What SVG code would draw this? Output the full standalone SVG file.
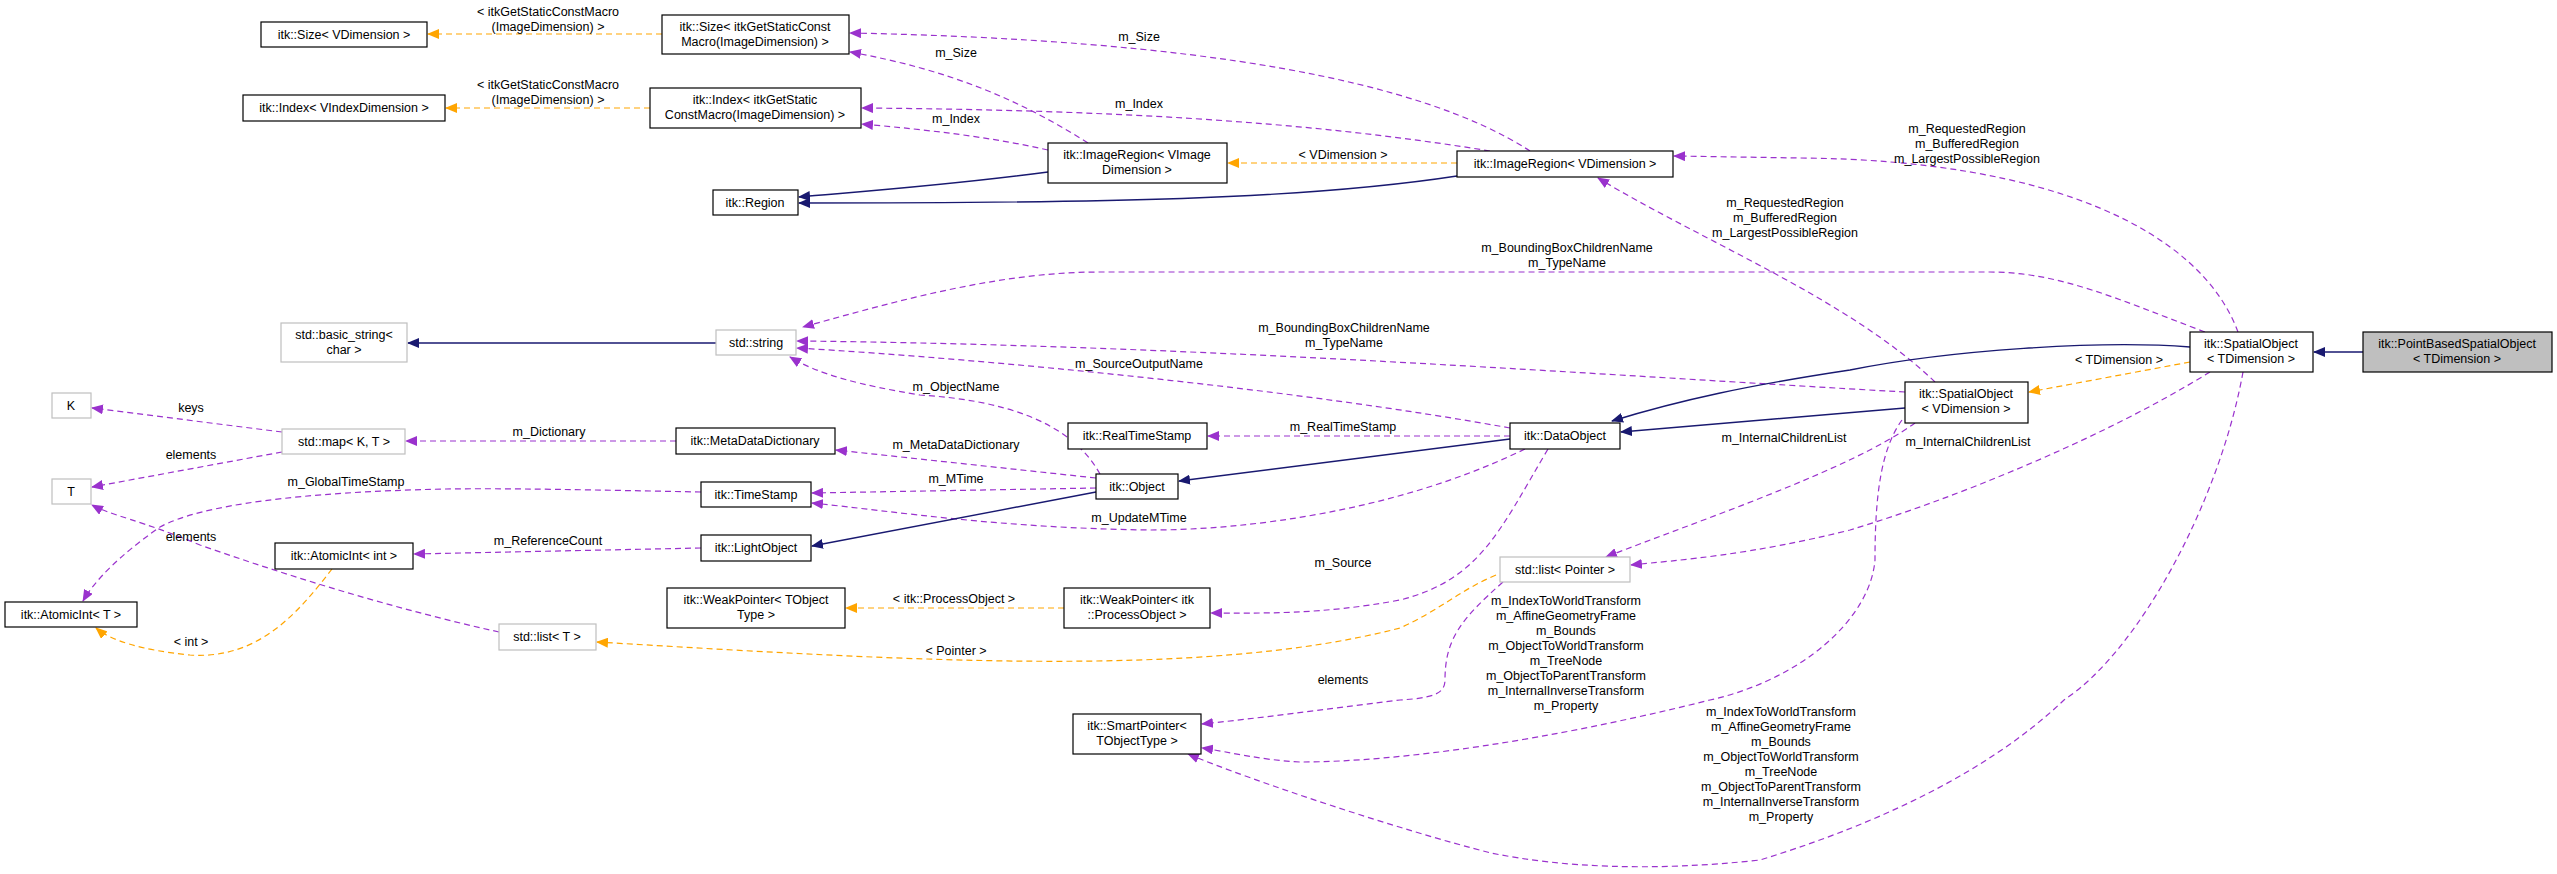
<svg xmlns="http://www.w3.org/2000/svg" width="2557" height="874" viewBox="0 0 2557 874">
<style>
text{font-family:"Liberation Sans",Arial,sans-serif;font-size:12.5px;fill:#000;text-anchor:middle}
.n{fill:#fff;stroke:#000;stroke-width:1.2}
.g{fill:#fff;stroke:#bfbfbf;stroke-width:1.2}
.p{fill:none;stroke:#9a32cd;stroke-width:1.2;stroke-dasharray:6,4;marker-end:url(#ap)}
.o{fill:none;stroke:#ffa500;stroke-width:1.2;stroke-dasharray:6,4;marker-end:url(#ao)}
.b{fill:none;stroke:#191970;stroke-width:1.4;marker-end:url(#ab)}
</style>
<defs>
<marker id="ap" markerWidth="12" markerHeight="10" refX="11" refY="5" orient="auto" markerUnits="userSpaceOnUse"><path d="M0,0L12,5L0,10z" fill="#9a32cd"/></marker>
<marker id="ao" markerWidth="12" markerHeight="10" refX="11" refY="5" orient="auto" markerUnits="userSpaceOnUse"><path d="M0,0L12,5L0,10z" fill="#ffa500"/></marker>
<marker id="ab" markerWidth="12" markerHeight="10" refX="11" refY="5" orient="auto" markerUnits="userSpaceOnUse"><path d="M0,0L12,5L0,10z" fill="#191970"/></marker>
</defs>
<rect width="2557" height="874" fill="#fff"/>
<g id="connectors">
<path class="o" d="M662,34L428,34"/><text x="548" y="16">&lt; itkGetStaticConstMacro</text><text x="548" y="31">(ImageDimension) &gt;</text>
<path class="o" d="M650,108L446,108"/><text x="548" y="89">&lt; itkGetStaticConstMacro</text><text x="548" y="104">(ImageDimension) &gt;</text>
<path class="p" d="M1088,143C1020,100 950,70 850,52"/><text x="956" y="57">m_Size</text>
<path class="p" d="M1530,151C1420,80 1200,40 850,33"/><text x="1139" y="41">m_Size</text>
<path class="p" d="M1048,150C990,137 930,130 862,124"/><text x="956" y="123">m_Index</text>
<path class="p" d="M1490,151C1300,120 1100,110 862,108"/><text x="1139" y="108">m_Index</text>
<path class="b" d="M1048,172C950,185 880,190 799,197"/>
<path class="b" d="M1457,176C1300,200 1100,203 799,203"/>
<path class="o" d="M1457,163L1228,163"/><text x="1343" y="159">&lt; VDimension &gt;</text>
<path class="p" d="M2238,332C2200,230 2050,160 1800,158L1674,156"/><text x="1967" y="133">m_RequestedRegion</text><text x="1967" y="148">m_BufferedRegion</text><text x="1967" y="163">m_LargestPossibleRegion</text>
<path class="p" d="M1935,382C1850,300 1700,240 1598,178"/><text x="1785" y="207">m_RequestedRegion</text><text x="1785" y="222">m_BufferedRegion</text><text x="1785" y="237">m_LargestPossibleRegion</text>
<path class="p" d="M2205,332C2120,300 2060,272 1990,272L1100,272C1000,272 900,300 803,327"/><text x="1567" y="252">m_BoundingBoxChildrenName</text><text x="1567" y="267">m_TypeName</text>
<path class="p" d="M1905,392C1600,375 1200,345 797,341"/><text x="1344" y="332">m_BoundingBoxChildrenName</text><text x="1344" y="347">m_TypeName</text>
<path class="p" d="M1510,428C1300,390 1000,360 797,348"/><text x="1139" y="368">m_SourceOutputName</text>
<path class="p" d="M1100,474C1070,420 1000,400 920,395C860,385 820,375 790,357"/><text x="956" y="391">m_ObjectName</text>
<path class="b" d="M716,343L408,343"/>
<path class="p" d="M282,432L92,408"/><text x="191" y="412">keys</text>
<path class="p" d="M282,452L92,487"/><text x="191" y="459">elements</text>
<path class="p" d="M676,441L406,441"/><text x="549" y="436">m_Dictionary</text>
<path class="p" d="M1096,478L836,450"/><text x="956" y="449">m_MetaDataDictionary</text>
<path class="p" d="M701,492C600,490 500,488 446,489C300,492 200,505 160,527C120,555 95,580 83,601"/><text x="346" y="486">m_GlobalTimeStamp</text>
<path class="p" d="M1096,488L812,493"/><text x="956" y="483">m_MTime</text>
<path class="p" d="M1525,449C1400,510 1250,530 1150,530C1000,528 900,512 812,503"/><text x="1139" y="522">m_UpdateMTime</text>
<path class="b" d="M1096,492L812,546"/>
<path class="b" d="M1510,439L1179,481"/>
<path class="p" d="M1510,436L1208,436"/><text x="1343" y="431">m_RealTimeStamp</text>
<path class="p" d="M701,548L414,554"/><text x="548" y="545">m_ReferenceCount</text>
<path class="o" d="M332,569C300,610 260,660 190,655C140,650 110,640 96,628"/><text x="191" y="646">&lt; int &gt;</text>
<path class="p" d="M499,632C400,610 300,580 200,545C140,520 110,515 92,505"/><text x="191" y="541">elements</text>
<path class="o" d="M1064,608L846,608"/><text x="954" y="603">&lt; itk::ProcessObject &gt;</text>
<path class="p" d="M1548,449C1500,530 1480,580 1400,600C1320,615 1260,613 1211,613"/><text x="1343" y="567">m_Source</text>
<path class="o" d="M1496,575C1460,590 1440,610 1400,628C1200,680 900,660 597,642"/><text x="956" y="655">&lt; Pointer &gt;</text>
<path class="p" d="M1503,582C1460,620 1445,640 1445,680C1445,695 1430,698 1400,700C1320,710 1260,718 1202,724"/><text x="1343" y="684">elements</text>
<path class="p" d="M1915,423C1850,470 1700,520 1606,557"/><text x="1784" y="442">m_InternalChildrenList</text>
<path class="p" d="M2210,372C2100,440 1950,500 1850,530C1750,555 1680,560 1631,565"/><text x="1968" y="446">m_InternalChildrenList</text>
<path class="p" d="M1902,420C1880,450 1875,500 1875,560C1870,620 1800,680 1710,700C1550,740 1400,762 1300,762C1260,760 1230,752 1202,748"/>
<text x="1566" y="605">m_IndexToWorldTransform</text><text x="1566" y="620">m_AffineGeometryFrame</text><text x="1566" y="635">m_Bounds</text><text x="1566" y="650">m_ObjectToWorldTransform</text><text x="1566" y="665">m_TreeNode</text><text x="1566" y="680">m_ObjectToParentTransform</text><text x="1566" y="695">m_InternalInverseTransform</text><text x="1566" y="710">m_Property</text>
<path class="p" d="M2243,372C2220,500 2140,650 2064,700C1980,780 1858,830 1760,860C1650,872 1560,867 1491,853C1400,830 1250,780 1188,754"/>
<text x="1781" y="716">m_IndexToWorldTransform</text><text x="1781" y="731">m_AffineGeometryFrame</text><text x="1781" y="746">m_Bounds</text><text x="1781" y="761">m_ObjectToWorldTransform</text><text x="1781" y="776">m_TreeNode</text><text x="1781" y="791">m_ObjectToParentTransform</text><text x="1781" y="806">m_InternalInverseTransform</text><text x="1781" y="821">m_Property</text>
<path class="b" d="M2363,352L2314,352"/>
<path class="b" d="M2190,347C2100,340 1950,350 1850,370C1750,385 1680,400 1612,421"/>
<path class="b" d="M1905,408L1621,432"/>
<path class="o" d="M2190,362L2029,392"/><text x="2119" y="364">&lt; TDimension &gt;</text>
</g>
<g id="n1"><rect class="n" x="261" y="22" width="166" height="25"/><text x="344" y="39">itk::Size&lt; VDimension &gt;</text></g>
<g id="n2"><rect class="n" x="662" y="15" width="187" height="39"/><text x="755" y="31">itk::Size&lt; itkGetStaticConst</text><text x="755" y="46">Macro(ImageDimension) &gt;</text></g>
<g id="n3"><rect class="n" x="243" y="95" width="202" height="26"/><text x="344" y="112">itk::Index&lt; VIndexDimension &gt;</text></g>
<g id="n4"><rect class="n" x="650" y="88" width="211" height="40"/><text x="755" y="104">itk::Index&lt; itkGetStatic</text><text x="755" y="119">ConstMacro(ImageDimension) &gt;</text></g>
<g id="n5"><rect class="n" x="713" y="190" width="85" height="25"/><text x="755" y="207">itk::Region</text></g>
<g id="n6"><rect class="g" x="281" y="323" width="126" height="39"/><text x="344" y="339">std::basic_string&lt;</text><text x="344" y="354">char &gt;</text></g>
<g id="n7"><rect class="g" x="716" y="330" width="80" height="25"/><text x="756" y="347">std::string</text></g>
<g id="n8"><rect class="g" x="52" y="393" width="39" height="25"/><text x="71" y="410">K</text></g>
<g id="n9"><rect class="g" x="282" y="429" width="123" height="25"/><text x="344" y="446">std::map&lt; K, T &gt;</text></g>
<g id="n10"><rect class="n" x="676" y="428" width="159" height="26"/><text x="755" y="445">itk::MetaDataDictionary</text></g>
<g id="n11"><rect class="g" x="52" y="479" width="39" height="25"/><text x="71" y="496">T</text></g>
<g id="n12"><rect class="n" x="701" y="482" width="110" height="25"/><text x="756" y="499">itk::TimeStamp</text></g>
<g id="n13"><rect class="n" x="701" y="535" width="110" height="26"/><text x="756" y="552">itk::LightObject</text></g>
<g id="n14"><rect class="n" x="275" y="543" width="138" height="26"/><text x="344" y="560">itk::AtomicInt&lt; int &gt;</text></g>
<g id="n15"><rect class="n" x="5" y="602" width="132" height="25"/><text x="71" y="619">itk::AtomicInt&lt; T &gt;</text></g>
<g id="n16"><rect class="n" x="667" y="588" width="178" height="40"/><text x="756" y="604">itk::WeakPointer&lt; TObject</text><text x="756" y="619">Type &gt;</text></g>
<g id="n17"><rect class="g" x="499" y="624" width="97" height="26"/><text x="547" y="641">std::list&lt; T &gt;</text></g>
<g id="n18"><rect class="n" x="1048" y="143" width="179" height="40"/><text x="1137" y="159">itk::ImageRegion&lt; VImage</text><text x="1137" y="174">Dimension &gt;</text></g>
<g id="n19"><rect class="n" x="1457" y="151" width="216" height="26"/><text x="1565" y="168">itk::ImageRegion&lt; VDimension &gt;</text></g>
<g id="n20"><rect class="n" x="1068" y="423" width="139" height="26"/><text x="1137" y="440">itk::RealTimeStamp</text></g>
<g id="n21"><rect class="n" x="1510" y="423" width="110" height="26"/><text x="1565" y="440">itk::DataObject</text></g>
<g id="n22"><rect class="n" x="1096" y="474" width="82" height="25"/><text x="1137" y="491">itk::Object</text></g>
<g id="n23"><rect class="n" x="1064" y="588" width="146" height="40"/><text x="1137" y="604">itk::WeakPointer&lt; itk</text><text x="1137" y="619">::ProcessObject &gt;</text></g>
<g id="n24"><rect class="n" x="1073" y="714" width="128" height="40"/><text x="1137" y="730">itk::SmartPointer&lt;</text><text x="1137" y="745">TObjectType &gt;</text></g>
<g id="n25"><rect class="g" x="1500" y="557" width="130" height="25"/><text x="1565" y="574">std::list&lt; Pointer &gt;</text></g>
<g id="n26"><rect class="n" x="1905" y="382" width="123" height="41"/><text x="1966" y="398">itk::SpatialObject</text><text x="1966" y="413">&lt; VDimension &gt;</text></g>
<g id="n27"><rect class="n" x="2190" y="332" width="123" height="40"/><text x="2251" y="348">itk::SpatialObject</text><text x="2251" y="363">&lt; TDimension &gt;</text></g>
<g id="n28"><rect x="2363" y="332" width="189" height="40" fill="#bfbfbf" stroke="#000" stroke-width="1.2"/><text x="2457" y="348">itk::PointBasedSpatialObject</text><text x="2457" y="363">&lt; TDimension &gt;</text></g>
</svg>
